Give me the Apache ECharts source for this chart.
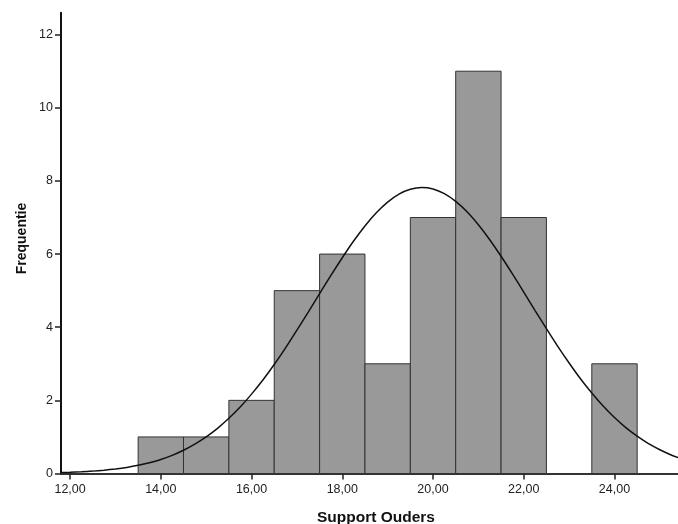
<!DOCTYPE html>
<html>
<head>
<meta charset="utf-8">
<script src="https://cdn.jsdelivr.net/npm/echarts@6/dist/echarts.min.js"></script>
<style>
html,body{margin:0;padding:0;background:#fff;}
#chart{width:678px;height:524px;}
</style>
</head>
<body>
<div id="chart"></div>
<script>
// Histogram bins (centers) and frequencies
var binCenters = [14, 15, 16, 17, 18, 19, 20, 21, 22, 23, 24];
var counts     = [1, 1, 2, 5, 6, 3, 7, 11, 7, 0, 3];
// Fitted normal curve
var curveX = [11.75, 12, 12.25, 12.5, 12.75, 13, 13.25, 13.5, 13.75, 14, 14.25, 14.5, 14.75, 15, 15.25, 15.5, 15.75, 16, 16.25, 16.5, 16.75, 17, 17.25, 17.5, 17.75, 18, 18.25, 18.5, 18.75, 19, 19.25, 19.5, 19.75, 20, 20.25, 20.5, 20.75, 21, 21.25, 21.5, 21.75, 22, 22.25, 22.5, 22.75, 23, 23.25, 23.5, 23.75, 24, 24.25, 24.5, 24.75, 25, 25.25, 25.5];
var curveY = [0.023, 0.033, 0.047, 0.065, 0.090, 0.124, 0.167, 0.223, 0.295, 0.385, 0.497, 0.635, 0.802, 1.00, 1.235, 1.51, 1.817, 2.17, 2.557, 2.98, 3.436, 3.92, 4.414, 4.92, 5.419, 5.90, 6.357, 6.77, 7.129, 7.42, 7.638, 7.77, 7.82, 7.78, 7.651, 7.44, 7.155, 6.80, 6.393, 5.94, 5.459, 4.96, 4.454, 3.96, 3.474, 3.02, 2.589, 2.20, 1.843, 1.53, 1.254, 1.02, 0.816, 0.65, 0.507, 0.39];
var xTicks = [12, 14, 16, 18, 20, 22, 24];
var yTicks = [0, 2, 4, 6, 8, 10, 12];
var xTitle = 'Support Ouders';
var yTitle = 'Frequentie';

var barData = binCenters.map(function (c, i) { return [c, counts[i]]; });
var curveData = curveX.map(function (x, i) { return [x, curveY[i]]; });

var chart = echarts.init(document.getElementById('chart'), null, {renderer: 'canvas'});
var font = 'Liberation Sans, Arial, sans-serif';
chart.setOption({
  backgroundColor: '#ffffff',
  animation: false,
  grid: {left: 61, right: 0, top: 12.7, bottom: 50.5, containLabel: false},
  xAxis: {
    type: 'value', min: 11.8, max: 25.4,
    axisLine: {show: true, onZero: false, lineStyle: {color: '#333', width: 2}},
    axisTick: {show: true, customValues: xTicks, length: 6, lineStyle: {color: '#222', width: 1.5}},
    axisLabel: {customValues: xTicks, margin: 10, color: '#222', fontSize: 12.5, fontFamily: font,
      formatter: function (v) { return v.toFixed(2).replace('.', ','); }},
    splitLine: {show: false}
  },
  yAxis: {
    type: 'value', min: 0, max: 12.6,
    axisLine: {show: true, lineStyle: {color: '#111', width: 2}},
    axisTick: {show: true, customValues: yTicks, length: 6, lineStyle: {color: '#222', width: 1.5}},
    axisLabel: {customValues: yTicks, margin: 8, color: '#222', fontSize: 12.5, fontFamily: font},
    splitLine: {show: false}
  },
  graphic: [
    {type: 'text', x: 376, y: 517.5, style: {text: xTitle, fill: '#111', font: 'bold 15.5px ' + font, align: 'center', verticalAlign: 'middle'}},
    {type: 'text', x: 22, y: 238.5, rotation: Math.PI / 2, style: {text: yTitle, fill: '#111', font: 'bold 14px ' + font, align: 'center', verticalAlign: 'middle'}}
  ],
  series: [
    {
      type: 'custom',
      data: barData,
      z: 2,
      renderItem: function (params, api) {
        var c = api.value(0), n = api.value(1);
        if (!n) return;
        var p0 = api.coord([c - 0.5, n]);
        var p1 = api.coord([c + 0.5, 0]);
        return {
          type: 'rect',
          shape: {x: p0[0], y: p0[1], width: p1[0] - p0[0], height: p1[1] - p0[1]},
          style: {fill: '#999999', stroke: '#333333', lineWidth: 1}
        };
      }
    },
    {
      type: 'line',
      data: curveData,
      smooth: 0.2,
      showSymbol: false,
      z: 3,
      clip: true,
      lineStyle: {color: '#111', width: 1.5}
    }
  ]
});
</script>
</body>
</html>
